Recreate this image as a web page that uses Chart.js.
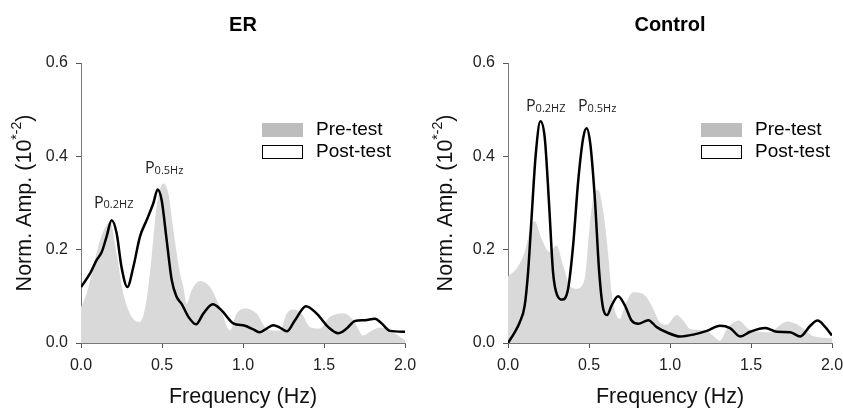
<!DOCTYPE html>
<html>
<head>
<meta charset="utf-8">
<script src="https://cdn.jsdelivr.net/npm/chart.js@4"></script>
<style>
  body { margin: 0; background: #fff; }
  .panel { position: absolute; top: 0; height: 410px; }
  #left { left: 0; width: 421px; }
  #right { left: 421px; width: 422px; }
</style>
</head>
<body>
<div class="panel" id="left"><canvas id="chartER"></canvas></div>
<div class="panel" id="right"><canvas id="chartControl"></canvas></div>
<script>
"use strict";

// Axis ticks
var xTickStep = 0.5;
var yTickStep = 0.2;

// ER panel - pre-test (grey area)
var erPreFreq = [0, 0.035, 0.076, 0.117, 0.158, 0.179, 0.22, 0.261, 0.313, 0.364, 0.405, 0.436, 0.467, 0.508, 0.539, 0.57, 0.611, 0.632, 0.652, 0.683, 0.735, 0.796, 0.858, 0.92, 0.961, 1.012, 1.084, 1.136, 1.187, 1.228, 1.27, 1.31, 1.362, 1.414, 1.475, 1.537, 1.619, 1.681, 1.743, 1.784, 1.846, 1.907, 2.0];
var erPreAmp = [0.077, 0.106, 0.163, 0.22, 0.253, 0.26, 0.192, 0.106, 0.056, 0.045, 0.092, 0.185, 0.292, 0.342, 0.321, 0.242, 0.149, 0.12, 0.084, 0.113, 0.133, 0.12, 0.077, 0.027, 0.063, 0.074, 0.063, 0.034, 0.027, 0.027, 0.063, 0.072, 0.063, 0.034, 0.031, 0.056, 0.064, 0.049, 0.016, 0.024, 0.033, 0.027, 0.006];

// ER panel - post-test (black line)
var erPostFreq = [0, 0.056, 0.097, 0.128, 0.158, 0.189, 0.22, 0.25, 0.286, 0.323, 0.364, 0.405, 0.447, 0.473, 0.498, 0.529, 0.56, 0.59, 0.621, 0.663, 0.71, 0.755, 0.813, 0.868, 0.94, 1.012, 1.064, 1.105, 1.146, 1.187, 1.228, 1.27, 1.321, 1.389, 1.455, 1.527, 1.588, 1.64, 1.691, 1.753, 1.815, 1.856, 1.907, 2.0];
var erPostAmp = [0.12, 0.149, 0.178, 0.195, 0.228, 0.263, 0.235, 0.163, 0.12, 0.163, 0.228, 0.263, 0.30, 0.329, 0.306, 0.22, 0.135, 0.099, 0.084, 0.056, 0.04, 0.063, 0.083, 0.07, 0.042, 0.037, 0.029, 0.023, 0.031, 0.038, 0.033, 0.025, 0.049, 0.079, 0.063, 0.034, 0.021, 0.031, 0.047, 0.049, 0.052, 0.042, 0.026, 0.024];

// Control panel - pre-test (grey area)
var ctlPreFreq = [0, 0.052, 0.103, 0.144, 0.165, 0.206, 0.258, 0.299, 0.34, 0.381, 0.423, 0.474, 0.505, 0.536, 0.557, 0.588, 0.619, 0.639, 0.67, 0.691, 0.722, 0.773, 0.835, 0.887, 0.938, 0.979, 1.041, 1.082, 1.124, 1.186, 1.237, 1.278, 1.309, 1.351, 1.423, 1.485, 1.546, 1.619, 1.67, 1.722, 1.804, 1.876, 1.928, 2.0];
var ctlPreAmp = [0.143, 0.159, 0.195, 0.252, 0.261, 0.224, 0.195, 0.209, 0.166, 0.123, 0.116, 0.138, 0.252, 0.324, 0.328, 0.281, 0.188, 0.109, 0.059, 0.052, 0.08, 0.109, 0.105, 0.08, 0.044, 0.039, 0.06, 0.048, 0.03, 0.028, 0.024, 0.012, 0.005, 0.03, 0.048, 0.03, 0.024, 0.023, 0.036, 0.046, 0.036, 0.016, 0.012, 0.01];

// Control panel - post-test (black line)
var ctlPostFreq = [0, 0.041, 0.072, 0.103, 0.124, 0.144, 0.171, 0.2, 0.227, 0.254, 0.278, 0.303, 0.336, 0.371, 0.402, 0.433, 0.464, 0.485, 0.509, 0.536, 0.563, 0.588, 0.612, 0.639, 0.68, 0.722, 0.763, 0.804, 0.866, 0.918, 0.979, 1.062, 1.144, 1.227, 1.309, 1.371, 1.433, 1.495, 1.588, 1.66, 1.742, 1.804, 1.866, 1.911, 1.959, 2.0];
var ctlPostAmp = [0, 0.023, 0.044, 0.08, 0.152, 0.26, 0.403, 0.475, 0.439, 0.295, 0.152, 0.103, 0.093, 0.116, 0.209, 0.346, 0.439, 0.46, 0.424, 0.31, 0.152, 0.073, 0.06, 0.08, 0.1, 0.08, 0.048, 0.041, 0.049, 0.034, 0.023, 0.014, 0.018, 0.026, 0.037, 0.032, 0.014, 0.024, 0.032, 0.024, 0.023, 0.014, 0.037, 0.048, 0.034, 0.016];

var preColor = '#d9d9d9';
var preLegendColor = '#bdbdbd';

function zip(xs, ys) {
    return xs.map(function (x, i) { return { x: x, y: ys[i] }; });
}

// Draws title, y label with superscript, legend and peak labels
var overlayPlugin = {
    id: 'overlay',
    afterDraw: function (chart, args, opts) {
        var ctx = chart.ctx;
        var ca = chart.chartArea;
        ctx.save();

        // Panel title
        ctx.fillStyle = '#000';
        ctx.font = 'bold 20px "Liberation Sans", Arial, sans-serif';
        ctx.textAlign = 'center';
        ctx.textBaseline = 'middle';
        ctx.fillText(opts.title, (ca.left + ca.right) / 2, 25);

        // Y axis title: Norm. Amp. (10*-2)
        var big = '21.5px "Liberation Sans", Arial, sans-serif';
        var small = '14px "Liberation Sans", Arial, sans-serif';
        var parts = [['Norm. Amp. (10', big, 0], ['*-2', small, -8], [')', big, 0]];
        var total = 0;
        parts.forEach(function (p) { ctx.font = p[1]; total += ctx.measureText(p[0]).width; });
        ctx.save();
        ctx.translate(25, (ca.top + ca.bottom) / 2);
        ctx.rotate(-Math.PI / 2);
        ctx.textAlign = 'left';
        ctx.textBaseline = 'middle';
        ctx.fillStyle = '#111';
        var px = -total / 2;
        parts.forEach(function (p) {
            ctx.font = p[1];
            ctx.fillText(p[0], px, p[2]);
            px += ctx.measureText(p[0]).width;
        });
        ctx.restore();

        // Legend
        var lx = ca.left + opts.legendOffset;
        ctx.fillStyle = preLegendColor;
        ctx.fillRect(lx, 123, 41, 14);
        ctx.fillStyle = '#fff';
        ctx.fillRect(lx, 145, 41, 14);
        ctx.strokeStyle = '#000';
        ctx.lineWidth = 1;
        ctx.strokeRect(lx + 0.5, 145.5, 40, 13);
        ctx.fillStyle = '#000';
        ctx.font = '19px "Liberation Sans", Arial, sans-serif';
        ctx.textAlign = 'left';
        ctx.textBaseline = 'middle';
        ctx.fillText(chart.data.datasets[1].label, lx + 54, 130);
        ctx.fillText(chart.data.datasets[0].label, lx + 54, 152);

        // Peak labels
        var xs = chart.scales.x, ys = chart.scales.y;
        opts.peaks.forEach(function (pk) {
            var x = xs.getPixelForValue(pk.f);
            var y = ys.getPixelForValue(pk.v);
            ctx.fillStyle = '#222';
            ctx.font = '16px "Open Sans", sans-serif';
            ctx.textBaseline = 'middle';
            ctx.fillText('P', x, y);
            var w = ctx.measureText('P').width;
            ctx.font = '11px "Open Sans", sans-serif';
            ctx.fillText(pk.sub, x + w, y + 2);
        });

        ctx.restore();
    }
};

function makeChart(canvasId, title, preX, preY, postX, postY, legendOffset, peaks, leftWidth, padRight) {
    var ctx = document.getElementById(canvasId).getContext('2d');
    return new Chart(ctx, {
        type: 'line',
        data: {
            datasets: [{
                label: 'Post-test',
                data: zip(postX, postY),
                borderColor: '#000',
                borderWidth: 2.5,
                fill: false,
                pointRadius: 0,
                cubicInterpolationMode: 'monotone',
                order: 0
            }, {
                label: 'Pre-test',
                data: zip(preX, preY),
                backgroundColor: preColor,
                borderWidth: 0,
                fill: 'origin',
                pointRadius: 0,
                cubicInterpolationMode: 'monotone',
                order: 1
            }]
        },
        options: {
            responsive: true,
            maintainAspectRatio: false,
            animation: false,
            layout: { padding: { top: 63, right: padRight, bottom: 0, left: 0 } },
            plugins: {
                legend: { display: false },
                tooltip: { enabled: false },
                overlay: { title: title, legendOffset: legendOffset, peaks: peaks }
            },
            scales: {
                x: {
                    type: 'linear',
                    min: 0,
                    max: 2,
                    afterFit: function (scale) {
                        scale.height = 67;
                        scale.paddingLeft = 0;
                        scale.paddingRight = 0;
                    },
                    grid: { drawOnChartArea: false, drawTicks: true, tickLength: 5, color: '#555' },
                    border: { display: true, color: '#777' },
                    ticks: {
                        stepSize: xTickStep,
                        padding: 8,
                        color: '#222',
                        font: { family: '"Liberation Sans", Arial, sans-serif', size: 16 },
                        callback: function (v) { return v.toFixed(1); }
                    },
                    title: {
                        display: true,
                        text: 'Frequency (Hz)',
                        color: '#111',
                        padding: { top: 0, bottom: 0 },
                        font: { family: '"Liberation Sans", Arial, sans-serif', size: 21.5 }
                    }
                },
                y: {
                    min: 0,
                    max: 0.6,
                    afterFit: function (scale) { scale.width = leftWidth; },
                    grid: { drawOnChartArea: false, drawTicks: true, tickLength: 5, color: '#555' },
                    border: { display: true, color: '#777' },
                    ticks: {
                        stepSize: yTickStep,
                        padding: 8,
                        color: '#222',
                        font: { family: '"Liberation Sans", Arial, sans-serif', size: 16 },
                        callback: function (v) { return v.toFixed(1); }
                    }
                }
            }
        },
        plugins: [overlayPlugin]
    });
}

makeChart('chartER', 'ER', erPreFreq, erPreAmp, erPostFreq, erPostAmp, 181,
    [{ f: 0.08, v: 0.30, sub: '0.2HZ' }, { f: 0.395, v: 0.373, sub: '0.5Hz' }], 81, 16);

makeChart('chartControl', 'Control', ctlPreFreq, ctlPreAmp, ctlPostFreq, ctlPostAmp, 193,
    [{ f: 0.111, v: 0.507, sub: '0.2HZ' }, { f: 0.432, v: 0.507, sub: '0.5Hz' }], 87, 11);
</script>
</body>
</html>
